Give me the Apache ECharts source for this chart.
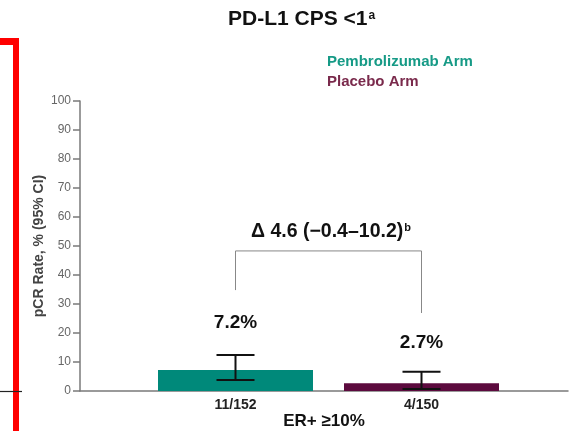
<!DOCTYPE html>
<html><head><meta charset="utf-8">
<script src="https://cdn.jsdelivr.net/npm/echarts@6/dist/echarts.min.js"></script>
<style>html,body{margin:0;padding:0;background:#fff}#c{width:575px;height:431px}</style>
</head><body><div id="c"></div>
<script>
const categories = ['11/152', '4/150'];
const groupLabel = 'ER+ \u226510%';
const seriesNames = ['Pembrolizumab Arm', 'Placebo Arm'];
const pembroValues = [7.2, '-'];
const placeboValues = ['-', 2.7];
const ciLow = [3.8, 0.7];
const ciHigh = [12.4, 6.6];
const bracket = [[0, 34.8], [0, 48.3], [1, 48.3], [1, 26.9]];
const yTicks = [0, 10, 20, 30, 40, 50, 60, 70, 80, 90, 100];

const FONT = '"Liberation Sans", Arial, sans-serif';
const TEAL = '#00897a';
const PURPLE = '#5c0a3e';

const chart = echarts.init(document.getElementById('c'));
chart.setOption({
  animation: false,
  textStyle: { fontFamily: FONT },
  title: [{
    text: '{m|PD-L1 CPS <1}{s|a}',
    left: 223, top: 4,
    textStyle: { rich: {
      m: { fontSize: 21, fontWeight: 'bold', color: '#111', fontFamily: FONT },
      s: { fontSize: 12, fontWeight: 'bold', color: '#111', fontFamily: FONT, padding: [0, 0, 8, 1] }
    } }
  }, {
    text: '{m|\u0394 4.6 (\u22120.4\u201310.2)}{s|b}',
    left: 246, top: 217,
    textStyle: { rich: {
      m: { fontSize: 19.5, fontWeight: 'bold', color: '#111', fontFamily: FONT },
      s: { fontSize: 11, fontWeight: 'bold', color: '#111', fontFamily: FONT, padding: [0, 0, 9, 1] }
    } }
  }],
  legend: {
    data: seriesNames.map((n, i) => ({ name: n, textStyle: { color: i === 0 ? '#169a86' : '#7a2a4c' } })),
    orient: 'vertical', left: 317, top: 49, itemWidth: 0, itemHeight: 0, itemGap: 5,
    icon: 'rect', selectedMode: false,
    textStyle: { fontSize: 15, fontWeight: 'bold', fontFamily: FONT }
  },
  grid: [
    { left: 80, right: 7, top: 101, bottom: 40, containLabel: false, outerBoundsMode: 'none' },
    { left: 142.5, right: 60.5, top: 101, bottom: 40, containLabel: false, outerBoundsMode: 'none' }
  ],
  xAxis: [{
    gridIndex: 0, type: 'category', data: [''],
    axisLine: { lineStyle: { color: '#7a7a7a', width: 1.5 } },
    axisTick: { show: false }, axisLabel: { show: false },
    name: groupLabel, nameLocation: 'middle', nameGap: 22,
    nameTextStyle: { fontSize: 17, fontWeight: 'bold', color: '#111', fontFamily: FONT }
  }, {
    gridIndex: 1, type: 'category', data: categories,
    axisLine: { show: false }, axisTick: { show: false },
    axisLabel: { fontSize: 14, fontWeight: 'bold', color: '#222', margin: 7, fontFamily: FONT }
  }],
  yAxis: [{
    gridIndex: 0, type: 'value', min: 0, max: 100, interval: 10,
    axisLine: { show: true, lineStyle: { color: '#7a7a7a', width: 1.5 } },
    axisTick: { show: true, length: 7, lineStyle: { color: '#7a7a7a', width: 1.5 } },
    axisLabel: { fontSize: 12, color: '#666', margin: 9, fontFamily: FONT },
    splitLine: { show: false },
    name: 'pCR Rate, % (95% CI)', nameLocation: 'middle', nameGap: 34, nameMoveOverlap: false,
    nameTextStyle: { fontSize: 14, fontWeight: 'bold', color: '#444', fontFamily: FONT }
  }, {
    gridIndex: 1, type: 'value', min: 0, max: 100, show: false
  }],
  series: [{
    name: seriesNames[0], type: 'bar', xAxisIndex: 1, yAxisIndex: 1, stack: 'a',
    barWidth: 155, itemStyle: { color: TEAL },
    data: pembroValues,
    label: { show: true, position: 'top', distance: 38, formatter: p => p.value + '%',
      fontSize: 19, fontWeight: 'bold', color: '#111', fontFamily: FONT }
  }, {
    name: seriesNames[1], type: 'bar', xAxisIndex: 1, yAxisIndex: 1, stack: 'a',
    barWidth: 155, itemStyle: { color: PURPLE },
    data: placeboValues,
    label: { show: true, position: 'top', distance: 31, formatter: p => p.value + '%',
      fontSize: 19, fontWeight: 'bold', color: '#111', fontFamily: FONT }
  }, {
    type: 'custom', xAxisIndex: 1, yAxisIndex: 1, silent: true,
    data: categories.map((c, i) => [i, ciLow[i], ciHigh[i]]),
    renderItem: function (params, api) {
      const lo = api.coord([api.value(0), api.value(1)]);
      const hi = api.coord([api.value(0), api.value(2)]);
      const hw = 19;
      const st = { stroke: '#111', lineWidth: 2 };
      return { type: 'group', children: [
        { type: 'line', shape: { x1: lo[0], y1: lo[1], x2: hi[0], y2: hi[1] }, style: st },
        { type: 'line', shape: { x1: lo[0] - hw, y1: lo[1], x2: lo[0] + hw, y2: lo[1] }, style: st },
        { type: 'line', shape: { x1: hi[0] - hw, y1: hi[1], x2: hi[0] + hw, y2: hi[1] }, style: st }
      ] };
    },
    z: 5
  }, {
    type: 'line', xAxisIndex: 1, yAxisIndex: 1, silent: true,
    data: bracket, symbol: 'none',
    lineStyle: { color: '#888', width: 1 }
  }],
  graphic: [
    { type: 'rect', shape: { x: 0, y: 38, width: 19, height: 7 }, style: { fill: '#ff0000' } },
    { type: 'rect', shape: { x: 13, y: 38, width: 6, height: 400 }, style: { fill: '#ff0000' } },
    { type: 'line', shape: { x1: 0, y1: 391.5, x2: 22, y2: 391.5 }, style: { stroke: '#222', lineWidth: 1.2 }, z: 10 }
  ]
});
</script>
</body></html>
